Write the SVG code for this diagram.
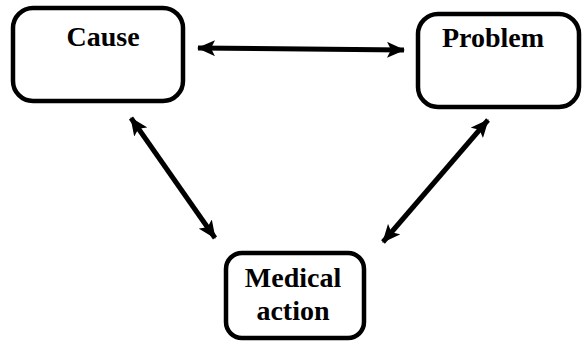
<svg xmlns="http://www.w3.org/2000/svg" width="582" height="343" viewBox="0 0 582 343">
<style>
.box{fill:#fff;stroke:#000;stroke-width:4.5}
.lbl{font-family:"Liberation Serif","Times New Roman",serif;font-weight:bold;font-size:28px;fill:#000;text-anchor:middle}
.con{stroke:#000;stroke-width:5;fill:none;marker-start:url(#ah);marker-end:url(#ah)}
</style>
<defs>
<marker id="ah" markerUnits="userSpaceOnUse" viewBox="0 0 18 16" refX="17" refY="8" markerWidth="18" markerHeight="16" orient="auto-start-reverse">
<path d="M0,0 L18,8 L0,16 L4,8 Z" fill="#000"/>
</marker>
</defs>
<rect width="582" height="343" fill="#fff"/>
<g id="connectors">
<line class="con" x1="198" y1="48" x2="404" y2="50"/>
<line class="con" x1="131" y1="118" x2="215" y2="238"/>
<line class="con" x1="488" y1="120" x2="383" y2="242"/>
</g>
<g id="cause">
<rect class="box" x="13" y="8" width="170" height="93" rx="20"/>
<text class="lbl" x="103" y="46">Cause</text>
</g>
<g id="problem">
<rect class="box" x="418" y="14" width="161" height="93" rx="20"/>
<text class="lbl" x="493" y="47">Problem</text>
</g>
<g id="medical-action">
<rect class="box" x="226" y="253" width="138" height="85" rx="16"/>
<text class="lbl" x="293" y="287">Medical</text>
<text class="lbl" x="293" y="320">action</text>
</g>
</svg>
